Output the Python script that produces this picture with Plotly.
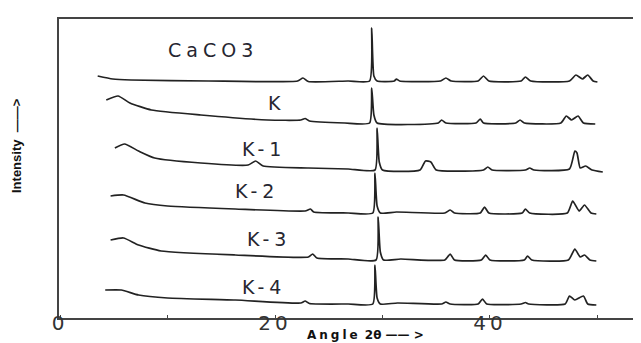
import plotly.graph_objects as go

# ---- data (2θ in degrees, intensity in arbitrary units, stacked) ----
caco3_angle = [3.5, 4.9, 6.6, 13.8, 22.1, 22.6, 23.1, 26.8, 28.8, 29.0, 29.2, 29.5, 31.1, 31.3, 31.6,
               35.4, 35.9, 36.4, 38.9, 39.4, 39.9, 42.9, 43.3, 43.8, 47.4, 48.0, 48.6, 49.1, 49.6, 50.0]
caco3_int = [242, 239, 238, 237, 237, 240, 236.5, 237, 237, 290, 242, 237, 237, 239, 237,
             237, 240, 237, 237, 242, 237, 237, 241, 237, 237, 243, 239, 243, 237, 236]

k_angle = [4.3, 5.4, 6.5, 8.5, 13.1, 19.3, 22.4, 22.8, 23.2, 26.5, 28.8, 29.0, 29.2, 29.5,
           35.2, 35.5, 35.9, 38.7, 39.1, 39.4, 42.4, 42.8, 43.2, 46.6, 47.1, 47.6, 48.2, 48.7, 49.8]
k_int = [218, 222, 215, 208, 203, 198, 198, 199.5, 197, 195, 195, 230, 203, 195,
         195, 198, 195, 195, 199, 195, 195, 198, 195, 195, 202, 198, 202, 195, 194]

k1_angle = [5.1, 6.0, 7.3, 8.8, 13.1, 17.5, 18.2, 18.9, 23.1, 26.8, 29.3, 29.5, 29.7, 30.0,
            33.5, 34.0, 34.5, 35.0, 39.4, 39.8, 40.2, 43.3, 43.7, 44.1, 47.4, 47.9, 48.1, 48.4, 48.9, 49.5, 50.5]
k1_int = [170, 174, 167, 160, 155, 153, 157, 152, 150, 149, 148, 190, 156, 148,
          148, 157, 156, 148, 148, 151, 148, 148, 150, 148, 149, 167, 165, 150, 152, 148, 146]

k2_angle = [4.7, 5.9, 7.9, 10.0, 16.3, 22.8, 23.3, 23.6, 26.8, 29.1, 29.3, 29.5, 29.8, 31.3,
            35.8, 36.3, 36.7, 39.1, 39.5, 39.9, 43.0, 43.3, 43.7, 47.2, 47.7, 48.3, 48.8, 49.4, 49.9]
k2_int = [122, 123, 115, 112, 109, 107, 109, 106, 105, 105, 145, 112, 105, 106,
          105, 108, 105, 105, 111, 105, 105, 109, 105, 105, 117, 107, 113, 105, 104]

k3_angle = [4.7, 5.9, 7.3, 9.4, 16.3, 23.1, 23.5, 23.9, 26.8, 29.4, 29.6, 29.8, 30.1, 31.7,
            35.8, 36.3, 36.7, 39.2, 39.6, 40.0, 43.2, 43.5, 43.9, 47.3, 47.9, 48.4, 48.8, 49.3, 49.9]
k3_int = [78, 80, 73, 67, 63, 61, 64, 60, 59, 58, 101, 66, 58, 59,
          58, 64, 58, 58, 63, 58, 58, 62, 58, 58, 69, 61, 63, 58, 57]

k4_angle = [4.2, 5.7, 7.3, 10.0, 16.3, 22.4, 22.8, 23.2, 26.8, 29.1, 29.3, 29.5, 29.8, 31.4,
            35.5, 35.9, 36.3, 38.9, 39.3, 39.7, 42.9, 43.3, 43.6, 47.0, 47.4, 47.9, 48.7, 49.1, 49.9]
k4_int = [28, 28, 23, 20, 18, 15, 17, 14.5, 14, 14, 53, 20, 14, 15,
          14, 16, 14, 14, 19, 14, 14, 15.5, 14, 14, 22, 18, 22, 14, 13]

sample_names = ["CaCO3", "K", "K-1", "K-2", "K-3", "K-4"]
label_angle = [14.2, 20.1, 19.0, 18.3, 19.4, 19.0]
label_int = [268, 215, 169, 127, 79, 31]

tick_vals = [0, 10, 20, 30, 40, 50]
tick_text = ["0", "", "20", "", "40", ""]

series = [(caco3_angle, caco3_int), (k_angle, k_int), (k1_angle, k1_int),
          (k2_angle, k2_int), (k3_angle, k3_int), (k4_angle, k4_int)]


def wide(s, sp):
    return '<span style="letter-spacing:%dpx">%s</span>' % (sp, s)


fig = go.Figure()
for name, (a, i) in zip(sample_names, series):
    fig.add_trace(go.Scatter(x=a, y=i, mode="lines", name=name,
                             line=dict(color="#222222", width=1.7, shape="spline", smoothing=0.5),
                             showlegend=False))

for name, xa, ya in zip(sample_names, label_angle, label_int):
    fig.add_annotation(x=xa, y=ya, text=wide(name, 5), showarrow=False,
                       xanchor="center", yanchor="middle",
                       font=dict(family="DejaVu Sans", size=19, color="#262630"))

fig.add_annotation(xref="paper", yref="paper", x=0.52, y=-0.058,
                   xanchor="center", yanchor="middle",
                   text="<b>" + wide("Angle", 3) + " 2θ —— ></b>",
                   showarrow=False, font=dict(family="DejaVu Sans", size=12, color="#111111"))
fig.add_annotation(xref="paper", yref="paper", x=-0.072, y=0.577, text="<b>Intensity  ——></b>",
                   textangle=-90, showarrow=False, xanchor="center", yanchor="middle",
                   font=dict(family="Liberation Sans Narrow, Liberation Sans", size=13, color="#111111"))

fig.update_layout(
    width=641, height=343,
    margin=dict(l=51, r=0, t=11, b=33),
    paper_bgcolor="white", plot_bgcolor="white",
    xaxis=dict(range=[-0.1, 54.8], showgrid=False, zeroline=False,
               showline=True, linecolor="#444444", linewidth=2, mirror=True,
               ticks="inside", ticklen=3, tickcolor="#444444",
               tickvals=tick_vals, ticktext=[wide(t, 4) for t in tick_text],
               ticklabelstandoff=-14,
               tickfont=dict(family="DejaVu Sans", size=20, color="#333333")),
    yaxis=dict(range=[0, 299], showgrid=False, zeroline=False,
               showline=True, linecolor="#444444", linewidth=2,
               showticklabels=False, ticks=""),
)

fig.write_html("out.html")
